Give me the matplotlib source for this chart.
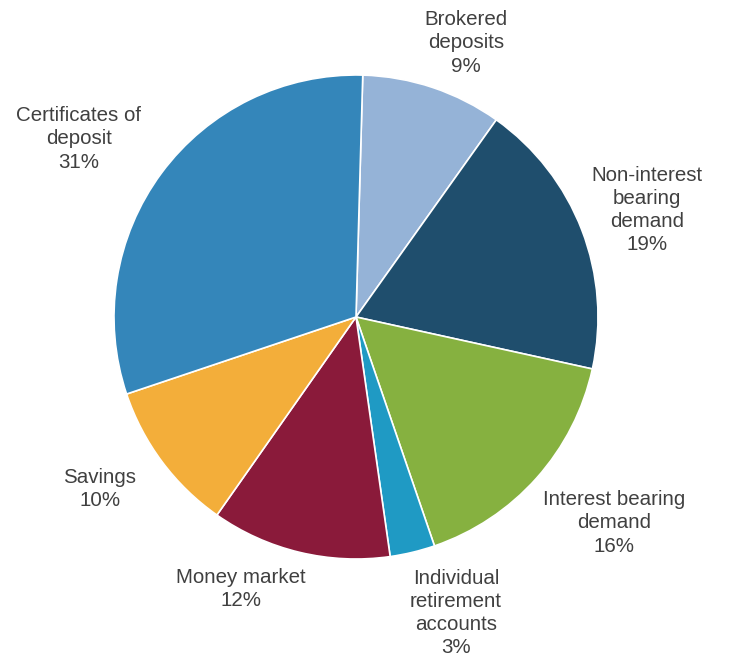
import matplotlib.pyplot as plt

# Deposit mix
categories = ['Brokered\ndeposits', 'Non-interest\nbearing\ndemand', 'Interest bearing\ndemand',
              'Individual\nretirement\naccounts', 'Money market', 'Savings', 'Certificates of\ndeposit']
shares = [9.4, 18.6, 16.3, 3.0, 12.0, 10.1, 30.6]
pct_labels = ['9%', '19%', '16%', '3%', '12%', '10%', '31%']
colors = ['#95b3d7', '#1f4e6d', '#86b140', '#1f9ac4', '#8a1a3a', '#f3ae3a', '#3486ba']

# label anchor points (pixel coords of text block centres)
label_xy = [(466, 43), (647, 210), (614, 523), (456, 613), (241, 589), (100, 489), (79, 139)]

W, H = 736, 663
fig = plt.figure(figsize=(W / 100, H / 100), dpi=100)
ax = fig.add_axes([0, 0, 1, 1])

ax.pie(shares, colors=colors, startangle=88.4, counterclock=False,
       center=(356, H - 317), radius=242, frame=True,
       wedgeprops=dict(edgecolor='white', linewidth=1.2))
ax.set_xlim(0, W)
ax.set_ylim(0, H)
ax.set_aspect('equal')
ax.axis('off')

for name, pct, (x, y) in zip(categories, pct_labels, label_xy):
    ax.text(x, H - y, name + '\n' + pct, ha='center', va='center', multialignment='center',
            fontsize=14.8, color='#404040', family='Liberation Sans', linespacing=1.28)

fig.savefig('out.png', dpi=100)
